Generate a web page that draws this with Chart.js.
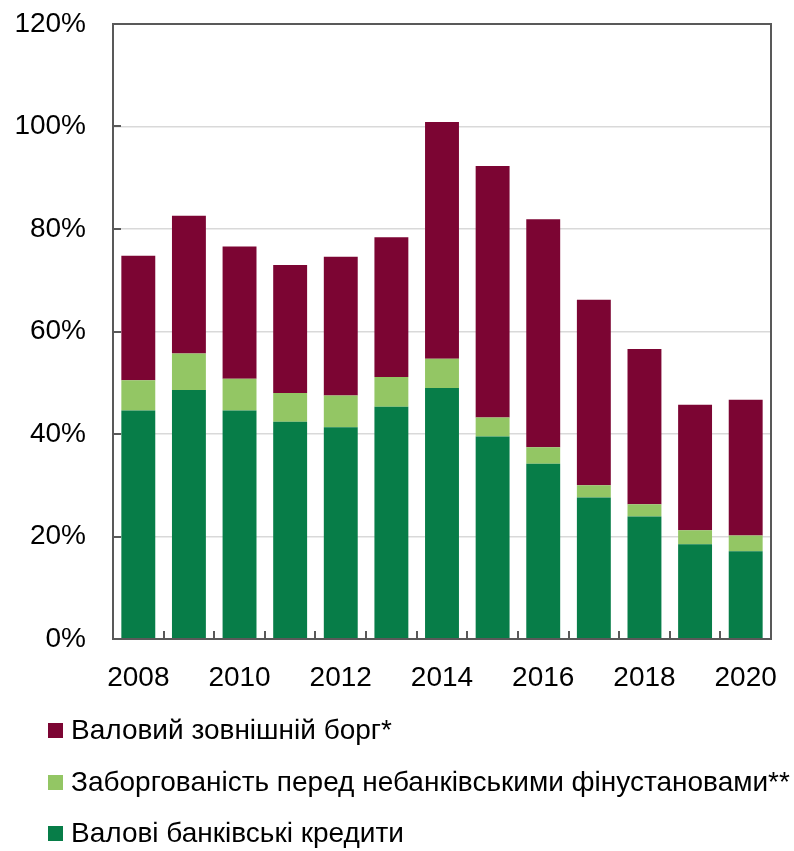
<!DOCTYPE html>
<html>
<head>
<meta charset="utf-8">
<script src="https://cdn.jsdelivr.net/npm/chart.js@4/dist/chart.umd.min.js"></script>
<style>
  html, body { margin: 0; padding: 0; background: #ffffff; }
  #wrap { position: relative; width: 794px; height: 851px; overflow: hidden; }
  #c { position: absolute; left: 0; top: 0; }
  .leg { position: absolute; left: 48px; height: 40px; display: flex; align-items: center;
         font-family: "Liberation Sans", Arial, sans-serif; font-size: 28px; color: #000; white-space: nowrap; }
  .leg .sw { width: 15px; height: 15px; margin-right: 8px; flex: none; }
</style>
</head>
<body>
<div id="wrap">
  <canvas id="c" width="794" height="851"></canvas>
  <div id="legend"></div>
</div>
<script>
// ---- data ----
const years = ["2008","2009","2010","2011","2012","2013","2014","2015","2016","2017","2018","2019","2020"];
const bankCredits   = [44.6, 48.6, 44.6, 42.4, 41.3, 45.3, 49.0, 39.5, 34.2, 27.6, 23.9, 18.5, 17.1];
const nonbankDebt   = [5.9, 7.1, 6.2, 5.6, 6.2, 5.8, 5.7, 3.7, 3.2, 2.4, 2.4, 2.7, 3.1];
const externalDebt  = [24.3, 26.9, 25.8, 25.0, 27.1, 27.3, 46.2, 49.1, 44.5, 36.2, 30.3, 24.5, 26.5];
const yTicks        = [0, 20, 40, 60, 80, 100, 120];
const seriesNames   = ["Валові банківські кредити",
                       "Заборгованість перед небанківськими фінустановами**",
                       "Валовий зовнішній борг*"];
const seriesColors  = ["#077D48", "#93C664", "#7C0533"];

const FONT = '"Liberation Sans", Arial, sans-serif';
const FRAME = '#595959';

const framePlugin = {
  id: 'frameTicks',
  afterDatasetsDraw(chart) {
    const { ctx, chartArea: a, scales } = chart;
    ctx.save();
    ctx.strokeStyle = FRAME;
    ctx.lineWidth = 2;
    ctx.strokeRect(a.left, a.top, a.right - a.left, a.bottom - a.top);
    ctx.beginPath();
    yTicks.forEach(v => {
      const y = Math.round(scales.y.getPixelForValue(v));
      ctx.moveTo(a.left, y); ctx.lineTo(a.left + 8, y);
    });
    for (let i = 0; i < years.length - 1; i++) {
      const x = Math.round((scales.x.getPixelForValue(i) + scales.x.getPixelForValue(i + 1)) / 2);
      ctx.moveTo(x, a.bottom); ctx.lineTo(x, a.bottom - 8);
    }
    ctx.stroke();
    ctx.restore();
  }
};

function noPad(s) { s.paddingLeft = 0; s.paddingRight = 0; s.paddingTop = 0; s.paddingBottom = 0; }

new Chart(document.getElementById('c'), {
  type: 'bar',
  data: {
    labels: years,
    datasets: [
      { label: seriesNames[0], data: bankCredits,  backgroundColor: seriesColors[0] },
      { label: seriesNames[1], data: nonbankDebt,  backgroundColor: seriesColors[1] },
      { label: seriesNames[2], data: externalDebt, backgroundColor: seriesColors[2] }
    ]
  },
  options: {
    responsive: false,
    animation: false,
    devicePixelRatio: 1,
    layout: { padding: { left: 0, top: 24, right: 23, bottom: 150 } },
    datasets: { bar: { barPercentage: 0.67, categoryPercentage: 1.0, borderWidth: 0 } },
    plugins: { legend: { display: false }, tooltip: { enabled: false } },
    scales: {
      x: {
        stacked: true,
        grid: { display: false, drawTicks: false },
        border: { display: false },
        ticks: {
          autoSkip: false, maxRotation: 0, padding: 22,
          color: '#000', font: { family: FONT, size: 28 },
          callback: function (v, i) { return i % 2 === 0 ? years[i] : ''; }
        },
        afterFit(s) { s.height = 62; noPad(s); }
      },
      y: {
        stacked: true,
        min: 0, max: 120,
        grid: {
          drawTicks: false,
          color: ctx => (ctx.tick && (ctx.tick.value === 0 || ctx.tick.value === 120)) ? 'rgba(0,0,0,0)' : '#D9D9D9',
          lineWidth: 1.5
        },
        border: { display: false },
        afterBuildTicks(s) { s.ticks = yTicks.map(v => ({ value: v })); },
        ticks: {
          padding: 27,
          color: '#000', font: { family: FONT, size: 28 },
          callback: v => v + '%'
        },
        afterFit(s) { s.width = 113; noPad(s); }
      }
    }
  },
  plugins: [framePlugin]
});

const legendRows = [2, 1, 0];
const rowCenters = [730, 782, 833];
const lg = document.getElementById('legend');
legendRows.forEach((si, k) => {
  const d = document.createElement('div');
  d.className = 'leg';
  d.style.top = (rowCenters[k] - 20) + 'px';
  const sw = document.createElement('span');
  sw.className = 'sw';
  sw.style.background = seriesColors[si];
  const t = document.createElement('span');
  t.textContent = seriesNames[si];
  d.appendChild(sw); d.appendChild(t);
  lg.appendChild(d);
});
</script>
</body>
</html>
